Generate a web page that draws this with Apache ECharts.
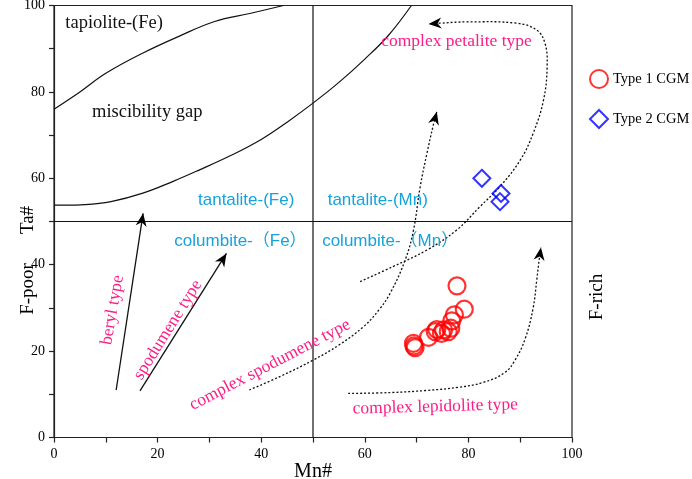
<!DOCTYPE html>
<html>
<head>
<meta charset="utf-8">
<script src="https://cdn.jsdelivr.net/npm/echarts@6/dist/echarts.min.js"></script>
<style>
  html, body { margin: 0; background: #fff; }
  #main { width: 692px; height: 479px; }
</style>
</head>
<body>
<div id="main"></div>
<script>
// measured points, [Mn#, Ta#]
const type1 = [
  [77.8, 35.1], [79.2, 29.7], [77.3, 28.4], [76.8, 27.0], [76.6, 25.3],
  [76.1, 24.5], [75.2, 24.9], [73.9, 25.0], [73.6, 24.5], [74.8, 24.1],
  [72.3, 23.2], [69.4, 21.8], [69.7, 20.8], [69.5, 21.2]
]
const type2 = [[82.6, 60.0], [86.3, 56.5], [86.1, 54.6]]

// field boundaries
const tapioliteBoundary = [[0, 76], [5, 80], [10, 84.3], [17, 88.9], [24, 92.8], [31, 96.3], [38, 98.2], [44.3, 100]]
const gapBoundary = [[0, 53.8], [6, 53.9], [11, 54.6], [17, 56.5], [23, 59.3], [28, 61.9], [34, 65.2], [40, 69], [45, 73], [50, 77.4], [55, 82.2], [60, 87.6], [64.5, 93], [69, 100]]
const fieldLineX = [[50, 0], [50, 100]]
const fieldLineY = [[0, 50], [100, 50]]

// trend arrows
const berylArrow = [[12, 11], [17.2, 51.9]]
const spodumeneArrow = [[16.6, 10.8], [33.3, 42.6]]
const complexSpodumenePath = [[37.7, 11], [43.6, 14.1], [50, 17.9], [55, 21.4], [59.7, 25.6], [62.7, 29.5], [64.9, 33.4], [67.8, 41.1], [69.4, 48], [70.7, 58.1], [72, 65.8], [73.2, 72.2], [73.9, 75.4]]
const complexPetalitePath = [[59.1, 36.1], [65.5, 39.6], [72, 43.4], [77.7, 48], [82.2, 53.4], [86.1, 58.1], [90, 64.2], [92.5, 70.4], [94.5, 78.1], [95.2, 85.8], [94.8, 91.2], [93.2, 94.3], [89.3, 95.9], [79.7, 96.2], [74.5, 95.9], [72.3, 95.7]]
const complexLepidolitePath = [[56.8, 10.2], [65, 10.4], [72, 10.9], [78, 11.6], [83, 12.8], [87, 15], [89, 17.9], [91, 23], [92.5, 30], [93.2, 36.5], [93.7, 41.5], [94, 44]]

// annotation labels: text, Mn#, Ta#, rotation
const fieldLabels = [['tapiolite-(Fe)', 11.6, 96.0, 0], ['miscibility gap', 18.0, 75.3, 0]]
const mineralLabels = [
  ['tantalite-(Fe)', 37.1, 55.0, 0], ['tantalite-(Mn)', 62.5, 55.0, 0],
  ['columbite-（Fe）', 36.0, 45.3, 0], ['columbite-（Mn）', 64.9, 45.3, 0]
]
const trendLabels = [
  ['complex petalite type', 77.7, 91.6, 0],
  ['beryl type', 11.3, 29.5, 80],
  ['spodumene type', 22.0, 24.9, 58],
  ['complex spodumene type', 41.7, 16.8, 27.5],
  ['complex lepidolite type', 73.6, 7.1, 1.5]
]

const serif = '"Liberation Serif", "Times New Roman", serif'
const pink = '#fb1e86'
const cyan = '#16a2dc'

function arrowHead(tip, from) {
  const dx = tip[0] - from[0], dy = tip[1] - from[1]
  const d = Math.hypot(dx, dy), ux = dx / d, uy = dy / d
  const len = 13, half = 5.5
  const bx = tip[0] - ux * len, by = tip[1] - uy * len
  return [
    tip,
    [bx - uy * half, by + ux * half],
    [tip[0] - ux * len * 0.7, tip[1] - uy * len * 0.7],
    [bx + uy * half, by - ux * half]
  ]
}

function pathSeries(points, opts) {
  return {
    type: 'custom',
    coordinateSystem: 'cartesian2d',
    silent: true,
    z: 3,
    data: points,
    renderItem: function (params, api) {
      if (params.dataIndex !== 0) return null
      const px = points.map(p => api.coord(p))
      const children = [{
        type: 'polyline',
        shape: { points: px, smooth: opts.smooth || 0 },
        style: {
          stroke: '#111', fill: null, lineWidth: opts.width || 1.2,
          lineDash: opts.dash ? [2, 2] : null
        }
      }]
      if (opts.arrow) {
        children.push({
          type: 'polygon',
          shape: { points: arrowHead(px[px.length - 1], px[px.length - 2]) },
          style: { fill: '#000' }
        })
      }
      return { type: 'group', children: children }
    }
  }
}

function labelSeries(list, color, font) {
  return {
    type: 'custom',
    coordinateSystem: 'cartesian2d',
    silent: true,
    z: 4,
    data: list.map(l => [l[1], l[2]]),
    renderItem: function (params, api) {
      const l = list[params.dataIndex]
      const p = api.coord([l[1], l[2]])
      return {
        type: 'text', x: p[0], y: p[1], rotation: l[3] * Math.PI / 180,
        style: { text: l[0], font: font, fill: color, align: 'center', verticalAlign: 'middle' }
      }
    }
  }
}

const axisCommon = {
  type: 'value',
  min: 0,
  max: 100,
  interval: 10,
  splitLine: { show: false },
  axisLine: { lineStyle: { color: '#222', width: 1.2 } },
  axisTick: { inside: false, length: 5, lineStyle: { color: '#222', width: 1.2 } },
  axisLabel: {
    fontFamily: serif, fontSize: 14, color: '#000',
    formatter: v => (v % 20 === 0 ? String(v) : '')
  }
}

const option = {
  animation: false,
  backgroundColor: '#fff',
  grid: { left: 54, right: 120, top: 5.5, bottom: 41.5, show: true, borderColor: '#222', borderWidth: 1.2, outerBoundsMode: 'none' },
  xAxis: Object.assign({}, axisCommon, {
    name: 'Mn#', nameLocation: 'middle', nameGap: 24, nameMoveOverlap: false,
    nameTextStyle: { fontFamily: serif, fontSize: 20, color: '#000' },
    axisLabel: Object.assign({}, axisCommon.axisLabel, { margin: 10 })
  }),
  yAxis: Object.assign({}, axisCommon, {
    axisLabel: Object.assign({}, axisCommon.axisLabel, { margin: 9 })
  }),
  legend: {
    orient: 'vertical', left: 589, top: 69, padding: 0, itemGap: 20, itemWidth: 18, itemHeight: 18,
    textStyle: { fontFamily: serif, fontSize: 14.5, color: '#000' },
    data: ['Type 1 CGM', 'Type 2 CGM']
  },
  graphic: [
    { type: 'text', x: 28, y: 220, rotation: Math.PI / 2, style: { text: 'Ta#', font: '19px ' + serif, fill: '#000', align: 'center', verticalAlign: 'middle' } },
    { type: 'text', x: 28, y: 289, rotation: Math.PI / 2, style: { text: 'F-poor', font: '19px ' + serif, fill: '#000', align: 'center', verticalAlign: 'middle' } },
    { type: 'text', x: 597, y: 297, rotation: Math.PI / 2, style: { text: 'F-rich', font: '19px ' + serif, fill: '#000', align: 'center', verticalAlign: 'middle' } }
  ],
  series: [
    pathSeries(fieldLineX, { width: 1.2 }),
    pathSeries(fieldLineY, { width: 1.2 }),
    pathSeries(tapioliteBoundary, { smooth: 0.4, width: 1.2 }),
    pathSeries(gapBoundary, { smooth: 0.4, width: 1.2 }),
    pathSeries(berylArrow, { arrow: true, width: 1.3 }),
    pathSeries(spodumeneArrow, { arrow: true, width: 1.3 }),
    pathSeries(complexSpodumenePath, { arrow: true, dash: true, smooth: 0.4, width: 1.3 }),
    pathSeries(complexPetalitePath, { arrow: true, dash: true, smooth: 0.4, width: 1.3 }),
    pathSeries(complexLepidolitePath, { arrow: true, dash: true, smooth: 0.4, width: 1.3 }),
    labelSeries(fieldLabels, '#111', '18.5px ' + serif),
    labelSeries(mineralLabels, cyan, '17px "Liberation Sans", "Noto Sans CJK SC", sans-serif'),
    labelSeries(trendLabels, pink, '17.5px ' + serif),
    {
      name: 'Type 1 CGM',
      type: 'scatter',
      z: 5,
      symbol: 'circle',
      symbolSize: 17,
      itemStyle: { color: 'rgba(0,0,0,0)', borderColor: '#ff0000', borderWidth: 2.2 },
      data: type1
    },
    {
      name: 'Type 2 CGM',
      type: 'scatter',
      z: 5,
      symbol: 'diamond',
      symbolSize: 17,
      itemStyle: { color: 'rgba(0,0,0,0)', borderColor: '#0000ff', borderWidth: 2 },
      data: type2
    }
  ]
}

const chartDom = document.getElementById('main')
const myChart = echarts.init(chartDom)
myChart.setOption(option)
</script>
</body>
</html>
